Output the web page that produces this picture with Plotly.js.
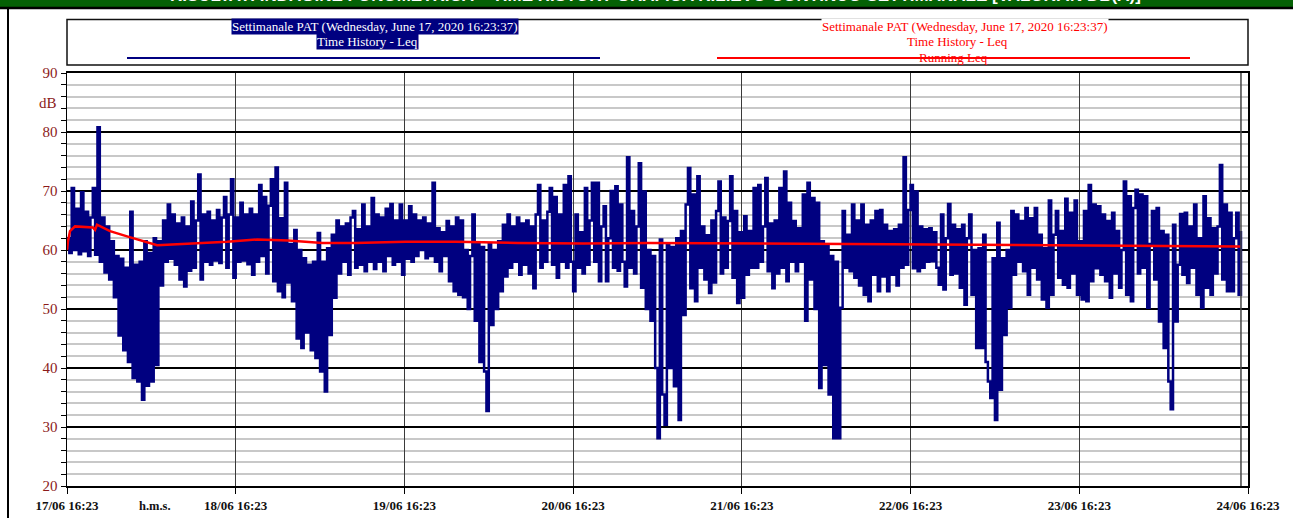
<!DOCTYPE html>
<html>
<head>
<meta charset="utf-8">
<script src="https://cdn.plot.ly/plotly-3.0.1.min.js"></script>
<style>
html,body{margin:0;padding:0;background:#fff;}
#chart{width:1293px;height:518px;}
</style>
</head>
<body>
<div id="chart"></div>
<script>
// ---- DATA ----
// Leq time history, 20-minute samples starting 17/06 16:23 (values in dB)
const leqStepHours = 1 / 3;
const leq = [
62, 59.5, 70.5, 60, 67, 59.3, 69.8, 59.8, 66.5, 59, 65.5, 70.5, 59.2, 80.8,
58, 65.5, 56.2, 64, 55,
61.5, 52, 59, 45.5, 58.5,
43, 57, 41, 66.5, 38.3,
57.5, 37.7, 58,
34.6, 61.5, 37, 59.5, 37.7, 62, 40.5, 61.5, 54,
65, 58, 67.7, 58.5,
66, 57.5, 64.5, 55, 65.5, 53.8, 64, 56.5, 68.2,
57, 65, 72.8, 55,
66, 58, 66.5, 57.5, 65, 58.2, 66.8,
57.8, 65.5, 69, 57, 66, 72, 55.3,
65.5, 58, 68, 58.2, 66, 57.6,
67, 55.8, 66, 58, 71,
59, 69,
56, 67.5,
72, 54.7, 74, 53,
65.4, 52,
71.4, 54.5,
61, 51.3, 63.4,
45, 60, 43.4,
58.6, 46, 57.5, 43, 58, 41.7,
62.9, 39.4, 58, 36,
60.3, 45.6,
62.6, 51.9,
65, 56, 64, 58, 64.5, 55.8, 65.5, 66.6, 57,
63.5, 57.5, 67.7, 56.4, 64, 58, 68.8, 56.8,
66, 58, 65.5, 56.4, 67, 59, 67.8, 57.5, 65,
58, 67.7, 55.8, 65, 58.5, 67.4, 58,
66, 59, 65, 60, 65.5, 58.6,
64.5, 59, 71.4, 58,
63.7, 56.4, 63, 59,
64.9, 54.7, 64, 53, 65.5,
52.4, 65,
52, 60, 50, 59,
66, 48, 61, 41, 60.5, 39.4, 32.7, 61, 47.3, 60, 50, 61.5,
53, 64.3,
55.5, 66, 57, 64, 58, 65.5, 55.8, 64.5, 57.5, 65, 56,
64, 53.5, 66, 71, 57,
65, 58, 66.5, 70.5, 57.5, 69, 55.3,
66, 58, 71, 57, 72.5, 58, 53,
66, 57, 63, 56,
70.5, 57.5, 65, 71.4, 58, 71.4,
54.7, 64, 67.4, 54.7,
62, 70, 57, 70.8, 56.5, 67.7, 58, 53.8,
75.7, 57, 66.6, 56, 64, 74.7, 53.6, 69.9,
50, 60,
48, 59, 40, 28.1, 61.8, 35.5, 30.4, 61, 40, 60.5, 36.9, 62, 31.2, 63.2, 49, 67.7, 73.9, 53.5, 69.4, 51.3, 72.5, 57,
64, 55, 62.5, 52.7, 65, 54.5, 66.6,
71.6, 56,
65.5, 57, 64.9,
72.5, 55.3,
66.6, 51, 63, 51.9, 65.7,
55.8, 63.2, 57,
70.5, 57, 71, 58, 64, 72.2, 56.4, 64.5, 53.5, 65,
56, 70.5, 57, 73.3, 54.7, 68,
58, 64.9, 56.4, 63.7,
58, 69.4, 48, 71.4,
55, 68.8, 50, 68, 36.6, 61.5,
40.5, 60.9, 35.5, 59,
28.1, 58, 28.1, 50.2,
66.6, 57, 62.6, 56.4,
67.7, 55.3,
65, 54, 67.7, 52.4, 64.3,
51.3, 65,
55.8, 66.6, 53,
66.8, 55.5,
64.3, 53, 63.2, 55.8, 63.5, 54,
64.3, 57, 75.7, 57.5, 66.8,
71, 56.9, 69.9, 56.4, 64, 57, 63.5, 58,
63.7, 58.1, 63,
57, 54.1, 66, 53.3, 62, 67.8,
55.8, 64.3,
56, 63.5, 53.6,
64.3, 50.7,
62, 66, 52.4,
60, 43.4,
60.3, 43.4, 62.6,
41, 37.7, 34.9, 58.6, 31.2, 64.6, 36.3, 58.6, 45.6,
60, 50.2,
66.6, 55.8, 66,
58, 64.9, 56.4, 67.1,
52.4, 65.4,
57, 67.1, 55,
62.6, 51.6, 60.3,
50.2, 68.4,
52.4, 62.6,
66.6, 55.3, 63.2, 54.1,
68.7, 53.6, 66.3, 56, 68.4,
52.4, 61.5, 51.6,
66.6, 51.3,
71, 54.7,
67.7, 56.9, 67.4,
55.8, 66, 54.7, 64.9,
51.9, 66.3, 56, 63.2, 53.6,
60, 71.6, 52.4, 69.1, 51.3, 67.1, 70.2, 56, 69.4, 57, 69.1,
50.2, 61,
66.6, 55, 67.1,
47.9, 63.2, 43.4, 62.6, 37.7, 33, 64.3, 47.9,
57.5, 66.1, 55.8,
66.3, 54.4,
64, 57, 67.7,
52.4, 62, 50.2,
69.1, 53.6, 65.4, 52.4, 63.7, 56,
64, 74.4, 55, 67.7, 53, 66.3, 53, 62, 66.3, 52.4, 63.2
];

// Running Leq (hours from start, dB)
const runHours = [0, 0.14, 0.43, 1.14, 3.70, 3.99, 4.27, 6.12, 8.55, 10.82, 12.82, 14.24, 17.95, 22.79, 27.06, 31.48, 36.32, 41.02, 48.14, 55.26, 64.09, 73.49, 83.04, 110.81, 138.58, 166.93];
const runLeq  = [60, 61.5, 63.2, 64, 63.8, 63.4, 64.3, 63.2, 62.3, 61.5, 60.8, 60.9, 61.1, 61.4, 61.8, 61.6, 61.2, 61.2, 61.4, 61.4, 61.2, 61.1, 61.2, 61.0, 60.7, 60.6];

// Axis ticks
const dayTicks  = [0, 24, 48, 72, 96, 120, 144, 168];
const dayLabels = ['17/06 16:23', '18/06 16:23', '19/06 16:23', '20/06 16:23', '21/06 16:23', '22/06 16:23', '23/06 16:23', '24/06 16:23'];

// Texts
const pageTitle = 'RISULTATI INDAGINE FONOMETRICA – TIME HISTORY GRAFICA RILIEVO CONTINUO SETTIMANALE [VALORI IN DB(A)]';
const seriesHeader = 'Settimanale PAT (Wednesday, June 17, 2020 16:23:37)';
const leqName = 'Time History - Leq';
const runName = 'Running Leq';

// ---- CHART ----
const leqHours = leq.map((_, i) => i * leqStepHours);
const lastHour = leqHours[leqHours.length - 1];

const navy = '#000080';
const red = '#FF0000';
const dred = '#8B1A1A';
const serif = 'Liberation Serif, Times New Roman, serif';

const traces = [
  {x: leqHours, y: leq, type: 'scatter', mode: 'lines', line: {color: navy, width: 2.5, shape: 'hv'}, hoverinfo: 'skip'},
  {x: runHours, y: runLeq, type: 'scatter', mode: 'lines', line: {color: red, width: 2.5}, hoverinfo: 'skip'}
];

// pixel helpers for decoration in paper space (plot area 67..1248 x 73..486)
const PX0 = 67, PX1 = 1248, PY0 = 73, PY1 = 486;
const px = v => (v - PX0) / (PX1 - PX0);
const py = v => (PY1 - v) / (PY1 - PY0);

const shapes = [
  // green banner
  {type: 'rect', xref: 'paper', yref: 'paper', x0: px(0), x1: px(1293), y0: py(7), y1: py(-2), fillcolor: '#056105', line: {width: 0}, layer: 'above'},
  {type: 'line', xref: 'paper', yref: 'paper', x0: px(0), x1: px(1293), y0: py(8), y1: py(8), line: {color: '#000', width: 2.5}},
  // left page frame line
  {type: 'line', xref: 'paper', yref: 'paper', x0: px(8), x1: px(8), y0: py(8), y1: py(520), line: {color: '#000', width: 2}},
  // legend box
  {type: 'rect', xref: 'paper', yref: 'paper', x0: 0, x1: 1, y0: py(65), y1: py(19.5), line: {color: '#111', width: 1.5}, fillcolor: 'rgba(0,0,0,0)'},
  {type: 'line', xref: 'paper', yref: 'paper', x0: px(127), x1: px(600), y0: py(58), y1: py(58), line: {color: navy, width: 2}},
  {type: 'line', xref: 'paper', yref: 'paper', x0: px(717), x1: px(1190), y0: py(58), y1: py(58), line: {color: red, width: 2}},
  // end of data marker
  {type: 'line', xref: 'x', yref: 'paper', x0: lastHour, x1: lastHour, y0: 0, y1: 1, line: {color: '#444', width: 1.5}}
];

const ann = (x, y, text, font, extra) => Object.assign({xref: 'paper', yref: 'paper', x: px(x), y: py(y), text: text, showarrow: false,
  xanchor: 'center', yanchor: 'middle', font: font}, extra || {});

const annotations = [
  ann(655, -5, '<b>' + pageTitle + '</b>', {family: 'Liberation Sans, Arial, sans-serif', size: 17, color: '#fff'}),
  ann(375, 26.5, seriesHeader, {family: serif, size: 13, color: '#fff'}, {bgcolor: navy, borderpad: 0}),
  ann(367, 41.5, leqName, {family: serif, size: 13, color: '#fff'}, {bgcolor: navy, borderpad: 0}),
  ann(965, 26.5, seriesHeader, {family: serif, size: 13, color: red}, {bgcolor: '#fff', borderpad: 0}),
  ann(957, 41.5, leqName, {family: serif, size: 13, color: red}),
  ann(953, 57.5, runName, {family: serif, size: 13, color: red}),
  ann(155, 506, '<b>h.m.s.</b>', {family: serif, size: 12.5, color: '#111'}),
  {xref: 'paper', yref: 'y', x: px(59), y: 85, text: 'dB', showarrow: false, xanchor: 'right', yanchor: 'middle',
   font: {family: serif, size: 15, color: dred}}
];

const layout = {
  width: 1293, height: 518,
  margin: {l: 67, r: 45, t: 73, b: 32, pad: 0},
  paper_bgcolor: '#fff', plot_bgcolor: '#fff',
  showlegend: false,
  xaxis: {
    range: [0, 168], tickmode: 'array', tickvals: dayTicks, ticktext: dayLabels.map(s => '<b>' + s + '</b>'),
    showgrid: true, gridcolor: '#3a3a3a', gridwidth: 1,
    ticks: 'outside', ticklen: 6, tickcolor: '#000', tickwidth: 1,
    showline: true, linecolor: '#000', linewidth: 2, mirror: true, zeroline: false,
    tickfont: {family: serif, size: 13, color: '#111'}, fixedrange: true
  },
  yaxis: {
    range: [20, 90], tick0: 20, dtick: 10,
    showgrid: true, gridcolor: '#000', gridwidth: 1.5,
    minor: {dtick: 2, showgrid: true, gridcolor: '#c8c8c8', gridwidth: 2, ticks: 'outside', ticklen: 5, tickcolor: '#000'},
    ticks: 'outside', ticklen: 5, tickcolor: '#000',
    showline: true, linecolor: '#000', linewidth: 1.5, mirror: true, zeroline: false,
    tickfont: {family: serif, size: 15, color: dred}, fixedrange: true
  },
  shapes: shapes,
  annotations: annotations
};

Plotly.newPlot('chart', traces, layout, {displayModeBar: false, staticPlot: true});
</script>
</body>
</html>
